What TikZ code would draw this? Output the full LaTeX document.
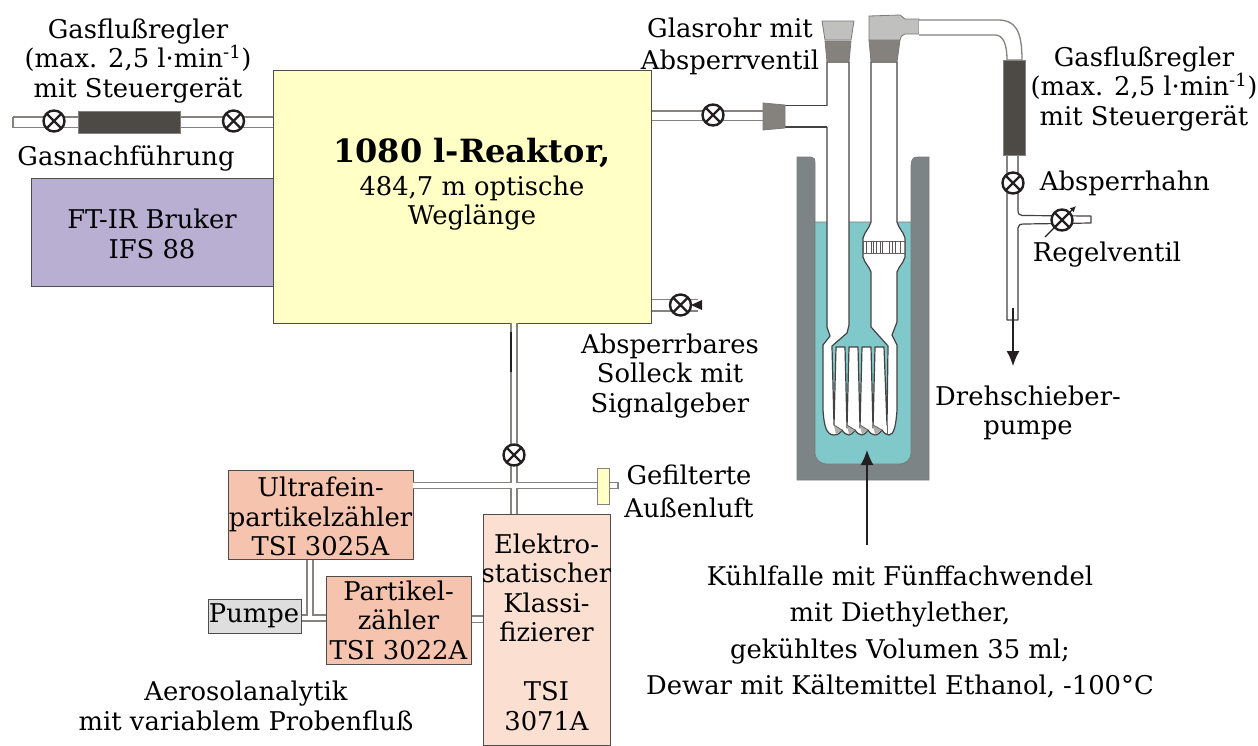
\documentclass[tikz,border=0pt]{standalone}
\usepackage{fontspec}
\setmainfont{DejaVu Serif}
\usetikzlibrary{arrows.meta,calc}
\definecolor{reactorc}{HTML}{FFFFC6}
\definecolor{ftirc}{HTML}{B9AFD3}
\definecolor{pinkc}{HTML}{F6C4AE}
\definecolor{lightpinkc}{HTML}{FBDFD1}
\definecolor{pumpc}{HTML}{DEDEDE}
\definecolor{darkc}{HTML}{4D4945}
\definecolor{jointc}{HTML}{85827E}
\definecolor{stopperc}{HTML}{C0C0BE}
\definecolor{dewarc}{HTML}{7D8486}
\definecolor{liquidc}{HTML}{80C8C9}
\definecolor{tubec}{HTML}{858280}
\definecolor{inkc}{HTML}{231F20}
\tikzset{
  box/.style={draw=inkc!80,line width=1pt,inner sep=0pt,align=center,text=inkc},
  txt/.style={align=center,inner sep=0pt,text=black,font=\fontsize{25.8}{29.5}\selectfont},
  tube/.style={draw=tubec,line width=1.5pt,double=white,double distance=#1},
  tube/.default=9pt,
  valve/.style={circle,draw=inkc,line width=2.4pt,fill=white,minimum size=21pt,inner sep=0pt,
    path picture={\draw[inkc,line width=2.2pt]
      ($(path picture bounding box.center)+(-8,-8)$)--($(path picture bounding box.center)+(8,8)$)
      ($(path picture bounding box.center)+(-8,8)$)--($(path picture bounding box.center)+(8,-8)$);}},
  glass/.style={draw=inkc!85,line width=1.2pt,fill=white,line join=round},
  glassline/.style={draw=inkc!85,line width=1.2pt},
  fitting/.style={draw=inkc!60,line width=.8pt,fill=jointc},
  stopper/.style={draw=inkc!60,line width=.8pt,fill=stopperc},
  flowbox/.style={draw=tubec,line width=1pt,fill=darkc,inner sep=0pt},
  flow/.style={draw=inkc,line width=1.3pt,-{Latex[length=15pt,width=13pt]}}
}
\begin{document}
\begin{tikzpicture}[x=1pt,y=-1pt,font=\fontsize{25.8}{29.5}\selectfont]
\useasboundingbox (0,0) rectangle (1258,745);
\coordinate (leftend) at (13,122);
\coordinate (rightout) at (763,115.5);
\coordinate (sollend) at (698,305);
\coordinate (filterend) at (618,485.5);
\coordinate (cross) at (514,485.5);
\coordinate (upcross) at (514,323);
\coordinate (ultraend) at (413,485.5);
\coordinate (elektrotop) at (514,514);
\coordinate (pumpjoin) at (310,618);
% box nodes
\node[box,fill=reactorc,minimum width=378pt,minimum height=253pt] (reactor) at (462,196.5) {};
\node[box,fill=ftirc,minimum width=242pt,minimum height=108pt] (ftir) at (152,232) {};
\node[box,fill=pinkc,minimum width=185pt,minimum height=89pt] (ultra) at (320.5,514.5) {};
\node[box,fill=pinkc,minimum width=145pt,minimum height=88pt] (partikel) at (398.5,620) {};
\node[box,fill=pumpc,minimum width=93pt,minimum height=34pt] (pumpe) at (254.5,616) {};
\node[box,fill=lightpinkc,minimum width=127pt,minimum height=231pt] (elektro) at (546.5,629.5) {};
% tube connectors
\draw[tube=9pt] (leftend) -- (leftend -| reactor.west);
\draw[draw=tubec,line width=1.5pt] (13,116.5)--(13,127.5);
\draw[tube=8pt] (rightout -| reactor.east) -- (rightout);
\draw[tube=10pt] (sollend -| reactor.east) -- (sollend);
\draw[tube=4.5pt] (upcross) -- (elektrotop) (ultraend) -- (filterend);
\draw[draw=tubec,line width=1.2pt] (618,482)--(618,489);
\draw[inkc,line width=2pt] (511,332)--(511,372);
\draw[tube=4.5pt] (ultra.south -| pumpjoin) -- (pumpjoin) (pumpe.east |- pumpjoin) -- (partikel.west |- pumpjoin);
\draw[tube=5pt] (partikel.east |- 0,619) -- (elektro.west |- 0,619);
% filter
\node[draw=tubec,line width=1pt,fill=reactorc,minimum width=12pt,minimum height=36pt,inner sep=0pt] (filter) at (603.5,486.5) {};
% flow controller left
\node[flowbox,minimum width=102pt,minimum height=22pt] (mfcleft) at (129,122) {};
\node[valve] (v1) at (54,121) {};
\node[valve] (v2) at (233.5,121) {};
\node[valve] (v3) at (713,115) {};
\fill[inkc] (691,305)--(702,300)--(702,310)--cycle;
\node[valve] (v4) at (680.5,305) {};
\node[valve] (v5) at (514,455) {};
% --- Dewar
\draw[fill=dewarc,draw=inkc!60,line width=.7pt] (797,157) -- (811,157) .. controls (814,157) and (815,159) .. (815,163) -- (815,452) .. controls (815,460) and (820,464) .. (828,464) -- (898,464) .. controls (906,464) and (911,460) .. (911,452) -- (911,166) .. controls (911,160) and (913,157) .. (917,157) -- (929,157) -- (929,480) -- (797,480) -- cycle;
\fill[liquidc,draw=inkc!60,line width=.7pt] (815,222) -- (815,452) .. controls (815,460) and (820,464) .. (828,464) -- (898,464) .. controls (906,464) and (911,460) .. (911,452) -- (911,222) -- cycle;
% --- trap glass
\draw[glass] (827,62) -- (827,327) -- (830,336) -- (823,345) -- (823,410)
  .. controls (824,425) and (826,435) .. (834,435)
  .. controls (838,435) and (840,433) .. (842,430)
  .. controls (844,433) and (846,435) .. (849,435)
  .. controls (851,435) and (853,433) .. (855,430)
  .. controls (857,433) and (859,435) .. (862,435)
  .. controls (864,435) and (866,433) .. (868,430)
  .. controls (870,433) and (872,435) .. (875,435)
  .. controls (877,435) and (880,433) .. (882,430)
  .. controls (884,433) and (886,435) .. (889,435)
  .. controls (894,435) and (896,425) .. (897,410)
  -- (897,345) -- (892,335) -- (897,322) -- (897,272)
  .. controls (899,266) and (903,264) .. (905,257) -- (905,238)
  .. controls (903,231) and (899,229) .. (897,222) -- (897,62) -- (871,62) -- (871,222)
  .. controls (869,229) and (865,231) .. (863,238) -- (863,257)
  .. controls (865,264) and (869,266) .. (871,272) -- (871,327) -- (888,346)
  -- (887,425) -- (884,347) -- (875,347) -- (873,428) -- (871,347) -- (862,347) -- (860,428)
  -- (858,347) -- (849,347) -- (847,428) -- (845,347) -- (836,347) -- (834,425) -- (832,347)
  -- (832,346) -- (847,333) -- (849,325) -- (849,62) -- cycle;
\foreach \a/\b/\c in {834/842/836,847/855/849,860/868/862,873/882/875}{
  \fill[stopperc!90!black] (\a,425)--(\b,430)--(\c,434.5)--cycle;
  \draw[inkc!70,line width=.8pt] (\a,425)--(\b,430);
}
\draw[inkc!70,line width=.8pt] (887,425)--(887,434);
\draw[inkc!70,line width=.8pt] (863,241) rectangle (905,253);
\foreach \x in {866,871,873,876,880,882,889,892,895,900}{\draw[inkc!75,line width=.8pt] (\x,241)--(\x,253);}
% side arm
\fill[white] (783,106) rectangle (829,126.5);
\draw[glassline] (785,105.5)--(827,105.5) (785,127)--(827,127);
\draw[fitting] (763,103)--(785,105)--(785,128)--(763,130)--cycle;
\draw[fitting] (825,41)--(851,41)--(849,62)--(827,62)--cycle;
\draw[stopper] (822,21)--(854,21)--(851,40)--(825,40)--cycle;
\draw[fitting] (869,40)--(900,40)--(897,62)--(871,62)--cycle;
\draw[stopper] (869,16)--(900,15)--(905,19)--(919,19)--(919,34)--(905,34) .. controls (902,35) and (900,37) .. (900,40)--(869,40)--cycle;
% bent tube to controller
\draw[draw=tubec,line width=1.3pt,fill=white] (919,20) -- (998,20) .. controls (1015,20) and (1022,30) .. (1022,60) -- (1007,60) .. controls (1007,44) and (1003,35) .. (995,35) -- (919,35);
% drain tube
\draw[glass] (1007,155)--(1018,155)--(1018,210) .. controls (1018,214) and (1019,215) .. (1022,215.5)--(1091,216)--(1091,223)--(1024,224) .. controls (1020,224) and (1018,225) .. (1018,228)--(1018,320)--(1007,320)--cycle;
\node[flowbox,minimum width=22pt,minimum height=95pt] (mfcright) at (1014,107.5) {};
\node[valve] (v6) at (1013,183) {};
\node[valve] (v7) at (1062,220) {};
\coordinate (rvA) at (1045,237);
\coordinate (rvB) at (1076,206);
\draw[inkc,line width=1.3pt,-{Latex[length=6pt,width=6pt]}] (rvA) -- (rvB);
\coordinate (pumpA) at (1013,308);
\coordinate (pumpB) at (1013,366);
\draw[flow] (pumpA) -- (pumpB);
% --- texts
\node[txt] (t1) at (138,61) {Gasflußregler\\(max. 2,5 l·min\textsuperscript{-1})\\mit Steuergerät};
\node[txt] (t2) at (1144,89) {Gasflußregler\\(max. 2,5 l·min\textsuperscript{-1})\\mit Steuergerät};
\node[txt] (t3) at (126,158) {Gasnachführung};
\node[txt,font=\fontsize{25.8}{32}\selectfont] (t4) at (730,46) {Glasrohr mit\\Absperrventil};
\node[txt] (t5) at (152,234) {FT-IR Bruker\\IFS 88};
\node[txt,font=\fontsize{32}{36}\bfseries\selectfont] (t6) at (472,153) {1080 l-Reaktor,};
\node[txt] (t7) at (472,203) {484,7 m optische\\Weglänge};
\node[txt] (t8) at (1125,183) {Absperrhahn};
\node[txt] (t9) at (1107,255) {Regelventil};
\node[txt] (t10) at (1028,413) {Drehschieber-\\pumpe};
\node[txt] (t11) at (670,376) {Absperrbares\\Solleck mit\\Signalgeber};
\node[txt,font=\fontsize{25.8}{33}\selectfont] (t12) at (689,491) {Gefilterte\\Außenluft};
\node[txt,font=\fontsize{25.8}{36.5}\selectfont] (t13) at (900,632) {Kühlfalle mit Fünffachwendel\\mit Diethylether,\\gekühltes Volumen 35 ml;\\Dewar mit Kältemittel Ethanol, -100°C};
\node[txt] (t14) at (246,706) {Aerosolanalytik\\mit variablem Probenfluß};
\node[txt] (t15) at (320.5,516.5) {Ultrafein-\\partikelzähler\\TSI 3025A};
\node[txt] (t16) at (398.5,620) {Partikel-\\zähler\\TSI 3022A};
\node[txt] (t17) at (254,616) {Pumpe};
\node[txt] (t18) at (546.5,632) {Elektro-\\statischer\\Klassi-\\fizierer\\[29.5pt]TSI\\3071A};
\coordinate (trapArrow) at (867,545);
\coordinate (trapTip) at (867,450);
\draw[flow] (trapArrow) -- (trapTip);
\end{tikzpicture}
\end{document}
